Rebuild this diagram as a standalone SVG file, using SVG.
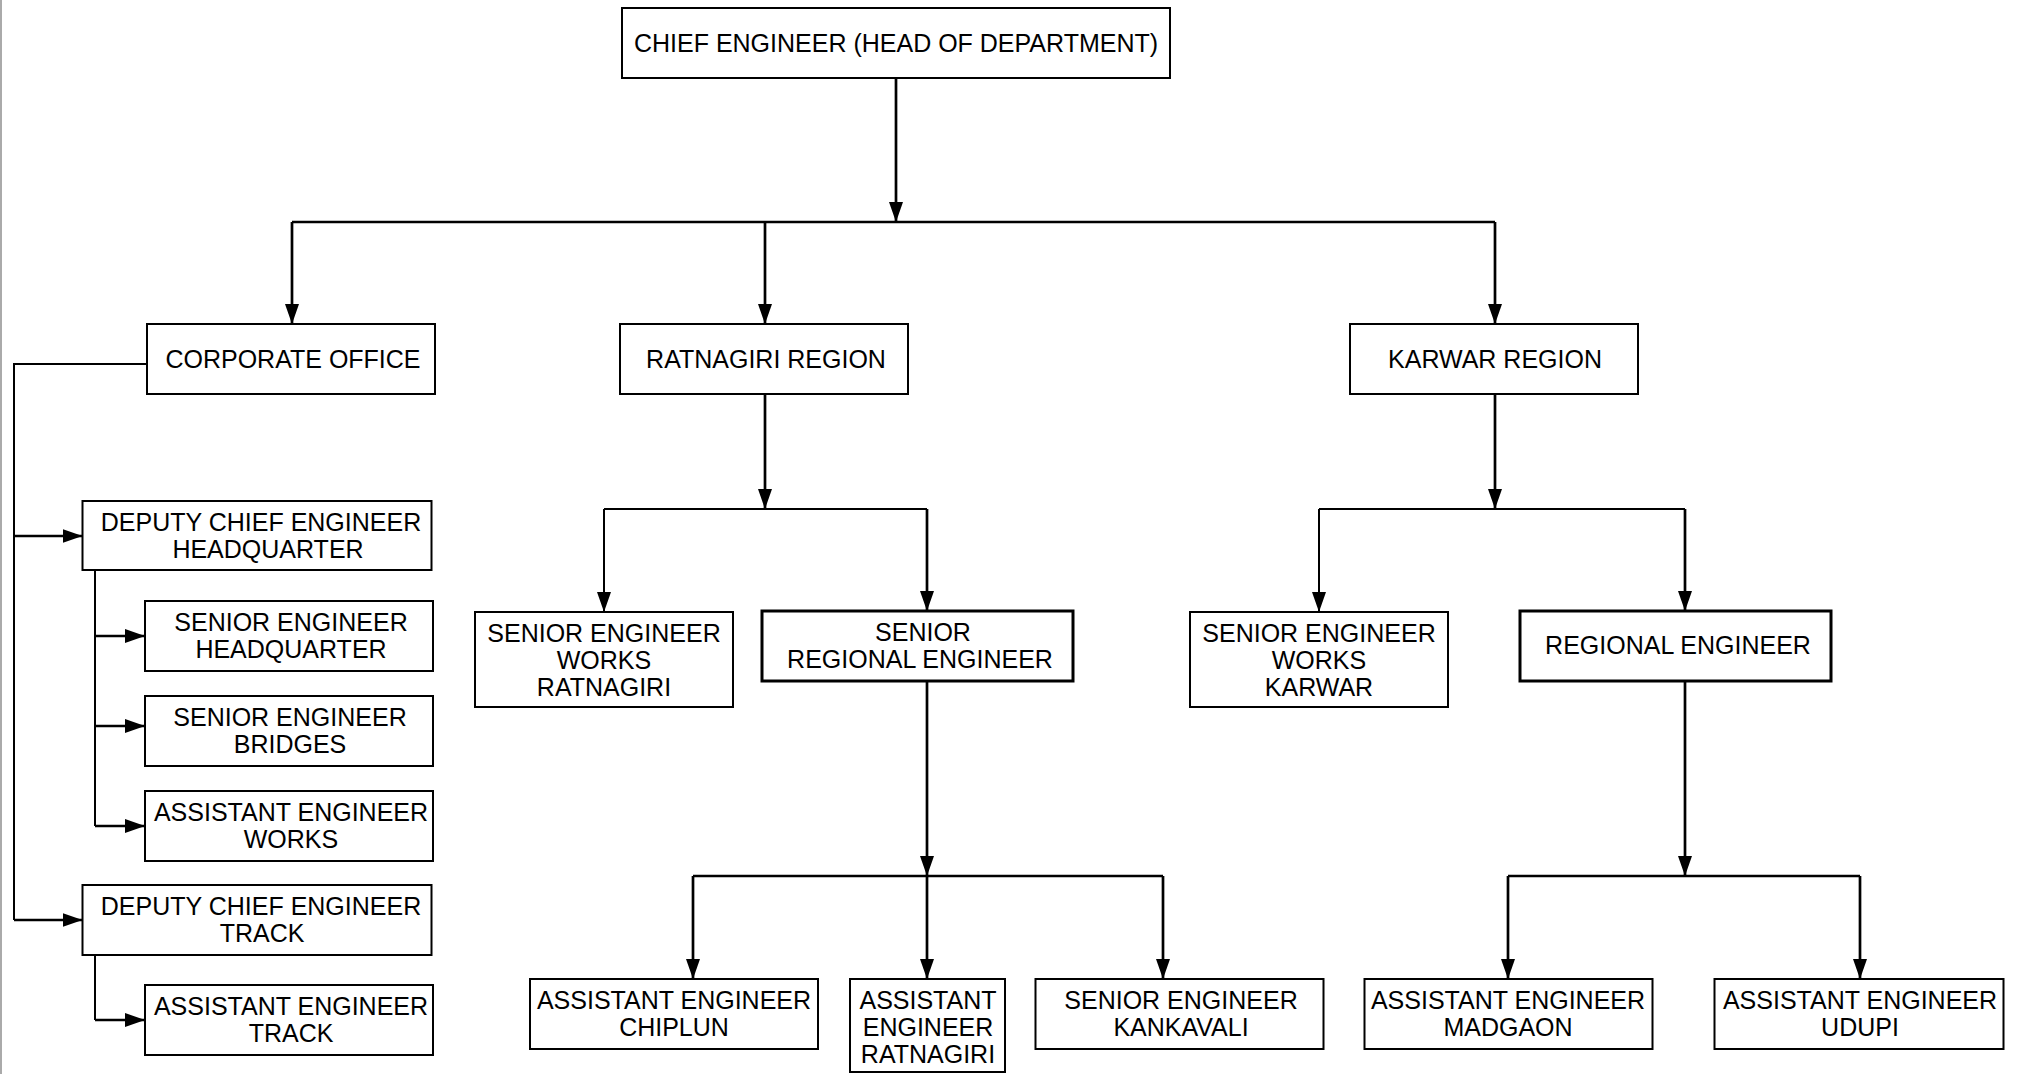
<svg xmlns="http://www.w3.org/2000/svg" width="2022" height="1074" viewBox="0 0 2022 1074">
<style>
.box{fill:#fff;stroke:#000;stroke-width:2}
.bold{stroke-width:3}
.t{font-family:"Liberation Sans",Arial,sans-serif;font-size:25px;fill:#000;text-anchor:middle}
.c{fill:none;stroke:#000;stroke-width:2}
.c3{fill:none;stroke:#000;stroke-width:2.7}
.a{marker-end:url(#arr)}
</style>
<defs>
<marker id="arr" markerUnits="userSpaceOnUse" viewBox="0 0 20 14" refX="20" refY="7" markerWidth="20" markerHeight="14" orient="auto">
<path d="M0,0 L20,7 L0,14 Z" fill="#000"/>
</marker>
</defs>
<rect x="0" y="0" width="2022" height="1074" fill="#fff"/>
<line x1="1" y1="0" x2="1" y2="1074" stroke="#aaa" stroke-width="2"/>
<g id="connectors">
<path class="c3 a" d="M896,78 V222"/>
<path class="c3" d="M292,222 H1495"/>
<path class="c3 a" d="M292,222 V324"/>
<path class="c3 a" d="M765,222 V324"/>
<path class="c3 a" d="M1495,222 V324"/>
<path class="c" d="M147,364 H14 V920"/>
<path class="c3 a" d="M14,536 H82.5"/>
<path class="c3 a" d="M14,920 H82.5"/>
<path class="c" d="M95,570 V826"/>
<path class="c3 a" d="M95,636 H145"/>
<path class="c3 a" d="M95,726 H145"/>
<path class="c3 a" d="M95,826 H145"/>
<path class="c" d="M95,955 V1020"/>
<path class="c3 a" d="M95,1020 H145"/>
<path class="c3 a" d="M765,394 V509"/>
<path class="c" d="M604,509 H927"/>
<path class="c a" d="M604,509 V612"/>
<path class="c3 a" d="M927,509 V611"/>
<path class="c3 a" d="M927,681 V876"/>
<path class="c3" d="M693,876 H1163"/>
<path class="c3 a" d="M693,876 V979"/>
<path class="c3 a" d="M927,876 V979"/>
<path class="c3 a" d="M1163,876 V979"/>
<path class="c3 a" d="M1495,394 V509"/>
<path class="c" d="M1319,509 H1685"/>
<path class="c a" d="M1319,509 V612"/>
<path class="c3 a" d="M1685,509 V611"/>
<path class="c3 a" d="M1685,681 V876"/>
<path class="c3" d="M1508,876 H1860"/>
<path class="c3 a" d="M1508,876 V979"/>
<path class="c3 a" d="M1860,876 V979"/>
</g>
<g id="chief"><rect class="box" x="622" y="8" width="548" height="70"/><text class="t" x="896" y="52">CHIEF ENGINEER (HEAD OF DEPARTMENT)</text></g>
<g id="corporate"><rect class="box" x="147" y="324" width="288" height="70"/><text class="t" x="293" y="368">CORPORATE OFFICE</text></g>
<g id="ratnagiri"><rect class="box" x="620" y="324" width="288" height="70"/><text class="t" x="766" y="368">RATNAGIRI REGION</text></g>
<g id="karwar"><rect class="box" x="1350" y="324" width="288" height="70"/><text class="t" x="1495" y="368">KARWAR REGION</text></g>
<g id="dce-hq"><rect class="box" x="82.5" y="501" width="349" height="69"/><text class="t" x="261" y="531">DEPUTY CHIEF ENGINEER</text><text class="t" x="268" y="558">HEADQUARTER</text></g>
<g id="se-hq"><rect class="box" x="145" y="601" width="288" height="70"/><text class="t" x="291" y="631">SENIOR ENGINEER</text><text class="t" x="291" y="658">HEADQUARTER</text></g>
<g id="se-bridges"><rect class="box" x="145" y="696" width="288" height="70"/><text class="t" x="290" y="726">SENIOR ENGINEER</text><text class="t" x="290" y="753">BRIDGES</text></g>
<g id="ae-works"><rect class="box" x="145" y="791" width="288" height="70"/><text class="t" x="291" y="821">ASSISTANT ENGINEER</text><text class="t" x="291" y="848">WORKS</text></g>
<g id="dce-track"><rect class="box" x="82.5" y="885" width="349" height="70"/><text class="t" x="261" y="915">DEPUTY CHIEF ENGINEER</text><text class="t" x="262" y="942">TRACK</text></g>
<g id="ae-track"><rect class="box" x="145" y="985" width="288" height="70"/><text class="t" x="291" y="1015">ASSISTANT ENGINEER</text><text class="t" x="291" y="1042">TRACK</text></g>
<g id="se-works-ratnagiri"><rect class="box" x="475" y="612" width="258" height="95"/><text class="t" x="604" y="642">SENIOR ENGINEER</text><text class="t" x="604" y="669">WORKS</text><text class="t" x="604" y="696">RATNAGIRI</text></g>
<g id="sre"><rect class="box bold" x="762" y="611" width="311" height="70"/><text class="t" x="923" y="641">SENIOR</text><text class="t" x="920" y="668">REGIONAL ENGINEER</text></g>
<g id="se-works-karwar"><rect class="box" x="1190" y="612" width="258" height="95"/><text class="t" x="1319" y="642">SENIOR ENGINEER</text><text class="t" x="1319" y="669">WORKS</text><text class="t" x="1319" y="696">KARWAR</text></g>
<g id="re"><rect class="box bold" x="1520" y="611" width="311" height="70"/><text class="t" x="1678" y="654">REGIONAL ENGINEER</text></g>
<g id="ae-chiplun"><rect class="box" x="530" y="979" width="288" height="70"/><text class="t" x="674" y="1009">ASSISTANT ENGINEER</text><text class="t" x="674" y="1036">CHIPLUN</text></g>
<g id="ae-ratnagiri"><rect class="box" x="850" y="979" width="155" height="93"/><text class="t" x="928" y="1009">ASSISTANT</text><text class="t" x="928" y="1036">ENGINEER</text><text class="t" x="928" y="1063">RATNAGIRI</text></g>
<g id="se-kankavali"><rect class="box" x="1035.5" y="979" width="288" height="70"/><text class="t" x="1181" y="1009">SENIOR ENGINEER</text><text class="t" x="1181" y="1036">KANKAVALI</text></g>
<g id="ae-madgaon"><rect class="box" x="1364.5" y="979" width="288" height="70"/><text class="t" x="1508" y="1009">ASSISTANT ENGINEER</text><text class="t" x="1508" y="1036">MADGAON</text></g>
<g id="ae-udupi"><rect class="box" x="1714.5" y="979" width="289" height="70"/><text class="t" x="1860" y="1009">ASSISTANT ENGINEER</text><text class="t" x="1860" y="1036">UDUPI</text></g>
</svg>
